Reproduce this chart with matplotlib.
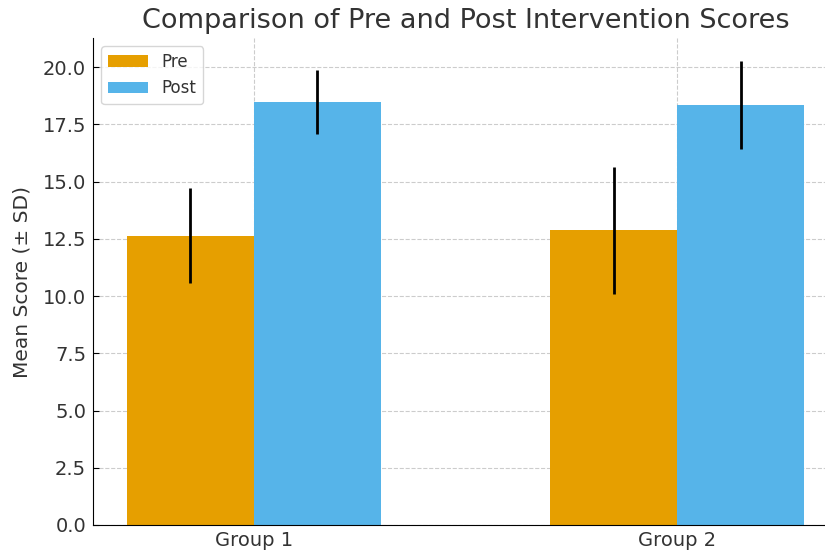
import matplotlib
matplotlib.use("Agg")
import matplotlib.pyplot as plt
import numpy as np

groups = ["Group 1", "Group 2"]
series = ["Pre", "Post"]
pre_means = [12.64, 12.88]
pre_sd = [2.09, 2.77]
post_means = [18.49, 18.34]
post_sd = [1.40, 1.92]
colors = ["#E69F00", "#56B4E9"]

fig = plt.figure(figsize=(8.25, 5.52), dpi=100)
ax = fig.add_axes([93/825, 1-525/552, (838-93)/825, (525-38)/552])

x = np.arange(len(groups))
w = 0.3
ax.bar(x - w/2, pre_means, w, yerr=pre_sd, color=colors[0], label=series[0],
       error_kw=dict(ecolor="black", elinewidth=2, capsize=0))
ax.bar(x + w/2, post_means, w, yerr=post_sd, color=colors[1], label=series[1],
       error_kw=dict(ecolor="black", elinewidth=2, capsize=0))

ax.set_xticks(x)
ax.set_xticklabels(groups, fontsize=14, color="#333333")
ax.tick_params(axis="both", direction="in", length=4, pad=5)
ax.tick_params(axis="x", pad=4)
ax.tick_params(axis="y", labelsize=14, labelcolor="#333333")
ax.set_ylabel("Mean Score (± SD)", fontsize=14.5, color="#333333", labelpad=8)
ax.set_title("Comparison of Pre and Post Intervention Scores", fontsize=19.5, color="#333333", pad=7)
ax.grid(True, linestyle="--", color="#cccccc", linewidth=0.8)
ax.set_axisbelow(True)
ax.spines["top"].set_visible(False)
ax.spines["right"].set_visible(False)
ax.legend(loc="upper left", fontsize=12, labelcolor="#333333", handlelength=2.4)

fig.savefig("out.png", dpi=100)
